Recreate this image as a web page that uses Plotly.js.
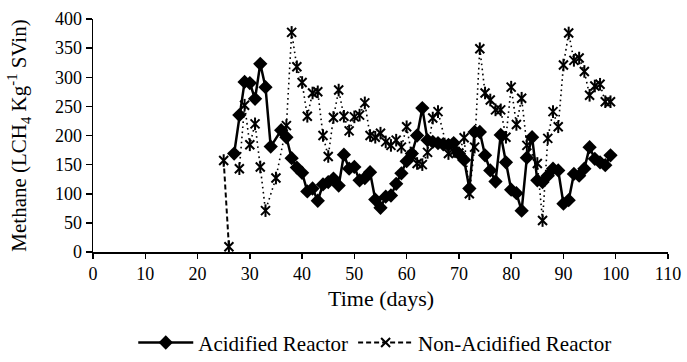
<!DOCTYPE html>
<html>
<head>
<meta charset="utf-8">
<script src="https://cdn.plot.ly/plotly-3.0.1.min.js"></script>
<style>
  html, body { margin: 0; padding: 0; background: #fff; }
  #chart { width: 687px; height: 362px; }
</style>
</head>
<body>
<div id="chart"></div>
<script>
// Acidified Reactor
const acDays = [27,28,29,30,31,32,33,34,36,37,38,39,40,41,42,43,44,45,46,47,48,49,50,51,52,53,54,55,56,57,58,59,60,61,62,63,64,65,66,67,68,69,70,71,72,73,74,75,76,77,78,79,80,81,82,83,84,85,86,87,88,89,90,91,92,93,94,95,96,97,98,99];
const acValues = [169,235,292,290,263,323,283,181,209,197,161,145,136,104,109,88,116,120,126,114,167,143,146,123,127,137,90,76,95,97,117,135,156,169,200,247,192,189,187,185,184,187,169,158,109,206,206,166,140,121,201,154,107,101,71,162,197,123,120,131,143,140,83,89,134,131,143,180,160,154,149,166];

// Non-Acidified Reactor
const naDays = [25,26,28,29,30,31,32,33,35,37,38,39,40,41,42,43,44,45,46,47,48,49,50,51,52,53,54,55,56,57,58,59,60,61,62,63,64,65,66,68,69,70,71,72,73,74,75,76,77,78,79,80,81,82,83,85,86,87,88,89,90,91,92,93,94,95,96,97,98,99];
const naValues = [157,9,143,252,184,220,146,71,127,217,377,318,291,233,273,275,200,164,231,278,233,208,232,235,256,200,197,204,189,183,192,180,215,166,152,150,171,230,241,169,173,170,196,100,180,349,273,261,244,244,197,283,219,264,183,152,54,195,241,215,321,376,329,333,310,269,285,288,258,258];

// the first two readings are joined by a dashed line, the rest by a dotted line
const naDashedCount = 2;

const xTicks = [0,10,20,30,40,50,60,70,80,90,100,110];
const yTicks = [0,50,100,150,200,250,300,350,400];

const xTitle = "Time (days)";
const yTitle = "Methane (LCH<sub>4</sub> Kg<sup>-1</sup> SVin)";

const FONT = "Liberation Serif";

const traces = [
  {
    x: acDays, y: acValues, name: "Acidified Reactor",
    type: "scatter", mode: "lines+markers",
    line: {color: "#000", width: 2.5},
    marker: {symbol: "diamond", size: 11, color: "#000"}
  },
  {
    x: naDays.slice(0, naDashedCount), y: naValues.slice(0, naDashedCount),
    name: "Non-Acidified Reactor",
    type: "scatter", mode: "lines+markers",
    line: {color: "#000", width: 2, dash: "5px,3px"},
    marker: {symbol: "x-thin-open", size: 9, color: "#000", line: {width: 2, color: "#000"}}
  },
  {
    x: naDays.slice(naDashedCount), y: naValues.slice(naDashedCount),
    name: "Non-Acidified Reactor", showlegend: false,
    type: "scatter", mode: "lines+markers",
    line: {color: "#000", width: 1.6, dash: "1.6px,3.5px"},
    marker: {symbol: "x-thin-open", size: 9, color: "#000", line: {width: 2, color: "#000"}}
  },
  {
    x: naDays, y: naValues, showlegend: false, hoverinfo: "skip",
    type: "scatter", mode: "markers",
    marker: {symbol: "line-ns-open", size: 9, color: "#000", line: {width: 2, color: "#000"}}
  }
];

const layout = {
  width: 687, height: 362,
  margin: {l: 93, r: 19, t: 19, b: 110, autoexpand: false},
  paper_bgcolor: "#fff", plot_bgcolor: "#fff",
  font: {family: FONT, color: "#000", size: 18, weight: "normal"},
  showlegend: true,
  xaxis: {
    range: [0, 110], tickvals: xTicks, ticktext: xTicks.map(String),
    automargin: false,
    showgrid: false, zeroline: false,
    showline: true, linecolor: "#000", linewidth: 1.5,
    ticks: "outside", ticklen: 5, tickwidth: 1.5, tickcolor: "#000",
    tickfont: {family: FONT, size: 18, color: "#000"}
  },
  yaxis: {
    range: [0, 400], tickvals: yTicks, ticktext: yTicks.map(String),
    automargin: false,
    showgrid: false, zeroline: false,
    showline: true, linecolor: "#000", linewidth: 1.5,
    ticks: "outside", ticklen: 6, tickwidth: 1.5, tickcolor: "#000",
    tickfont: {family: FONT, size: 18, color: "#000"},
    title: {text: yTitle, font: {family: FONT, size: 21, color: "#000", weight: "normal"}, standoff: 22}
  },
  annotations: [{
    text: xTitle, xref: "paper", yref: "paper", x: 0.5, y: -0.2,
    xanchor: "center", yanchor: "middle", showarrow: false,
    font: {family: FONT, size: 22, color: "#000"}
  }],
  legend: {
    orientation: "h", x: 0.49, xanchor: "center", y: -0.39, yanchor: "middle",
    font: {family: FONT, size: 21, color: "#000"},
    itemwidth: 55, bgcolor: "rgba(0,0,0,0)"
  }
};

Plotly.newPlot("chart", traces, layout, {displayModeBar: false, staticPlot: true});
</script>
</body>
</html>
